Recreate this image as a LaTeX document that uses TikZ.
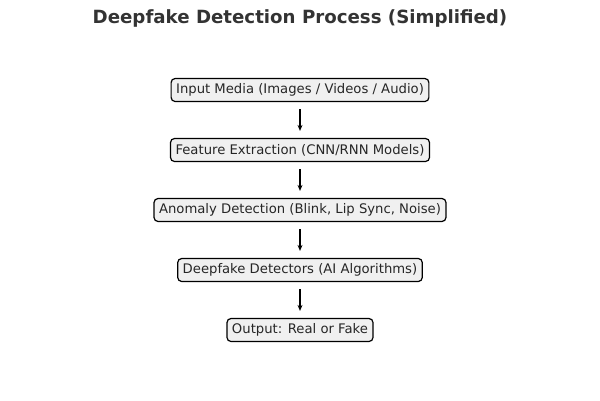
\documentclass[tikz,border=0pt]{standalone}
\usepackage{fontspec}
\setmainfont{DejaVu Sans}
\usetikzlibrary{arrows.meta}
\begin{document}
\begin{tikzpicture}[x=1pt, y=-1pt,
	stagebox/.style={rectangle, rounded corners=4pt, draw, line width=1.2pt, fill=black!6, minimum height=23pt, inner xsep=5pt, font=\fontsize{13.2}{15}\selectfont, text=black!85},
	flow/.style={-{Stealth[length=6pt, width=5pt]}, line width=1.4pt, shorten <=7pt, shorten >=7pt}]
			\useasboundingbox (0, 0) rectangle (600, 400);
			\node (title) at (300, 18) {\fontsize{18.2}{20}\selectfont\bfseries\color{black!80}Deepfake Detection Process (Simplified)};

			\node (input)[stagebox] at (300, 90) {Input Media (Images / Videos / Audio)};
			\node (feature)[stagebox] at (300, 150) {Feature Extraction (CNN/RNN Models)};
			\node (anomaly)[stagebox] at (300, 210) {Anomaly Detection (Blink, Lip Sync, Noise)};
			\node (detect)[stagebox] at (300, 270) {Deepfake Detectors (AI Algorithms)};
			\node (output)[stagebox] at (300, 330) {Output: Real or Fake};

			\draw[flow] (input) -- (feature);
			\draw[flow] (feature) -- (anomaly);
			\draw[flow] (anomaly) -- (detect);
			\draw[flow] (detect) -- (output);
		\end{tikzpicture}
\end{document}
